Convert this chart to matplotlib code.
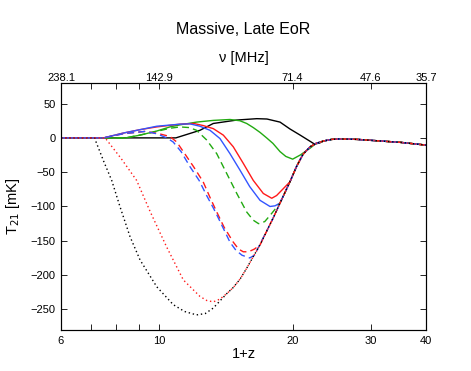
import numpy as np
import matplotlib
matplotlib.use('Agg')
import matplotlib.pyplot as plt
from matplotlib.ticker import FixedLocator, NullFormatter

plt.rcParams['font.family'] = ['Liberation Sans', 'DejaVu Sans']

#%% data (x = 1+z, y = T21 in mK)

# branch that all the deep curves share on the way back up, and the common tail
rise_z = [16.88, 17.78, 18.1, 18.73, 19.72, 20.4, 21.1, 21.9, 22.6]
rise_t = [-156, -126, -116, -95, -64, -42, -24, -13, -8]
tail_z = [23.5, 24.5, 25.5, 28, 31.5, 35, 40]
tail_t = [-4.5, -2.2, -1.5, -2.2, -4.5, -6.5, -10.5]

blk_z = [6, 10.9, 12.35, 13.24, 14.96, 16.6, 17.5, 18.73, 19.72, 20.8, 21.9, 22.4, 23.0]
blk_t = [0, 0, 11, 21, 26, 28, 27.5, 23, 13, 4, -5, -9, -7.5]

grn_z = [6, 8.4, 9.05, 9.87, 10.57, 11.14, 12.14, 13.24, 14.44, 15.2, 15.75, 16.3,
         16.88, 17.47, 18.05, 18.73, 19.3, 20.0, 20.8, 21.9, 22.6]
grn_t = [0, 0, 4, 10, 16, 19, 23, 25.5, 26.8, 25, 21, 15, 8, 0, -8, -20, -27, -31,
         -25, -15, -8]

red_z = [6, 7.5, 8.29, 9.05, 9.87, 11.14, 11.96, 12.56, 13.24, 13.95, 14.69, 15.47,
         16.3, 17.17, 17.94, 18.4, 19.05]
red_t = [0, 0, 7, 12, 16, 20, 21, 18, 13.5, 4, -13, -37, -62, -81, -88, -84, -74]

blu_z = [6, 7.48, 8.29, 9.05, 9.87, 11.14, 11.73, 12.35, 13.02, 13.71, 14.44, 15.21,
         16.0, 16.88, 17.78, 18.25]
blu_t = [0, 0, 7, 12, 17, 20, 20.4, 17, 11, -1, -23, -47, -71, -91, -100, -99]

grn_d_z = [6, 8.41, 9.5, 10.57, 11.14, 11.7, 12.14, 12.79, 13.48, 14.2, 14.96,
           15.75, 16.3, 16.75, 17.3, 17.94]
grn_d_t = [0, 0, 7, 14, 16, 15, 11, -3, -23, -52, -81, -108, -120, -125, -122, -110]

red_d_z = [6, 7.48, 8.29, 9.3, 10.0, 10.57, 10.95, 11.33, 11.95, 12.56, 13.0, 13.48,
           14.0, 14.69, 15.1, 15.47, 15.9, 16.4]
red_d_t = [0, 0, 6, 9.5, 6, 2, -6, -20, -42, -64, -86, -108, -130, -152, -162, -166,
           -166, -162]

blu_d_z = [6, 7.48, 8.29, 9.3, 9.87, 10.4, 10.75, 11.2, 11.73, 12.3, 12.79, 13.24,
           13.55, 14.0, 14.44, 14.9, 15.37, 16.0, 16.4]
blu_d_t = [0, 0, 6, 9.5, 6, 0, -6, -20, -42, -62, -84, -102, -115, -134, -152, -164,
           -171, -175, -171]

blk_o_z = [6, 7.15, 7.2, 7.5, 7.81, 8.15, 8.59, 9.05, 9.87, 10.75, 11.4, 12.14,
           12.7, 13.24, 14.2, 14.69, 15.21, 15.75, 16.3]
blk_o_t = [0, 0, -6, -35, -62, -100, -144, -178, -217, -243, -253, -258, -256, -248,
           -227, -218, -206, -190, -173]

red_o_z = [6, 7.55, 7.61, 8.2, 8.89, 9.53, 10.39, 11.33, 12.35, 12.8, 13.24, 13.7,
           14.2, 14.69, 15.21, 15.75, 16.3]
red_o_t = [0, 0, -3, -30, -62, -107, -159, -207, -231, -237, -239, -235, -227, -218,
           -206, -190, -173]

xticks = [6, 10, 20, 30, 40]
xminor = [7, 8, 9]
nu_labels = ['238.1', '142.9', '71.4', '47.6', '35.7']
yticks = [-250, -200, -150, -100, -50, 0, 50]

#%% figure

fig = plt.figure(figsize=(4.71, 3.71), dpi=100)
ax = fig.add_axes([0.1295, 0.1105, 0.775, 0.6658])

c_r = '#ff1a1a'
c_b = '#3355ff'
c_g = '#22aa11'
c_k = 'k'
lw = 1.0

# solid curves
ax.plot(blk_z + tail_z, blk_t + tail_t, color=c_k, lw=lw)
ax.plot(grn_z + tail_z, grn_t + tail_t, color=c_g, lw=lw)
ax.plot(red_z + rise_z[4:] + tail_z, red_t + rise_t[4:] + tail_t, color=c_r, lw=lw)
ax.plot(blu_z + rise_z[3:] + tail_z, blu_t + rise_t[3:] + tail_t, color=c_b, lw=lw)

# dashed curves
dash = (0, (5, 3))
ax.plot(grn_d_z + rise_z[3:] + tail_z, grn_d_t + rise_t[3:] + tail_t, color=c_g, lw=lw, ls=dash)
ax.plot(red_d_z + rise_z + tail_z, red_d_t + rise_t + tail_t, color=c_r, lw=lw, ls=dash)
ax.plot(blu_d_z + rise_z[1:] + tail_z, blu_d_t + rise_t[1:] + tail_t, color=c_b, lw=lw, ls=dash)

# dotted curves
dot = (0, (1, 2))
ax.plot(blk_o_z + rise_z + tail_z, blk_o_t + rise_t + tail_t, color=c_k, lw=lw, ls=dot)
ax.plot(red_o_z + rise_z + tail_z, red_o_t + rise_t + tail_t, color=c_r, lw=lw, ls=dot)

ax.set_xscale('log')
ax.set_xlim(6, 40)
ax.set_ylim(-280, 80)
ax.xaxis.set_major_locator(FixedLocator(xticks))
ax.xaxis.set_minor_locator(FixedLocator(xminor))
ax.xaxis.set_minor_formatter(NullFormatter())
ax.set_xticklabels([str(t) for t in xticks])
ax.set_yticks(yticks)
ax.tick_params(which='both', direction='in', top=False, right=True, labelsize=8,
               length=4, width=0.6, pad=4)
ax.set_xlabel('1+z', fontsize=10.5, labelpad=1)
ax.set_ylabel('T$_{21}$ [mK]', fontsize=10.5, labelpad=6)
for s in ax.spines.values():
    s.set_linewidth(0.8)
    s.set_color('#333333')

# top axis in frequency
ax2 = ax.twiny()
ax2.set_xscale('log')
ax2.set_xlim(6, 40)
ax2.xaxis.set_major_locator(FixedLocator(xticks))
ax2.xaxis.set_minor_locator(FixedLocator(xminor))
ax2.xaxis.set_minor_formatter(NullFormatter())
ax2.set_xticklabels(nu_labels)
ax2.tick_params(which='both', direction='in', labelsize=8, length=4, width=0.6, pad=0)
ax2.set_xlabel('ν [MHz]', fontsize=10.5, labelpad=8)
ax2.set_title('Massive, Late EoR', fontsize=11.5, pad=12)

fig.savefig('out.png', dpi=100)
